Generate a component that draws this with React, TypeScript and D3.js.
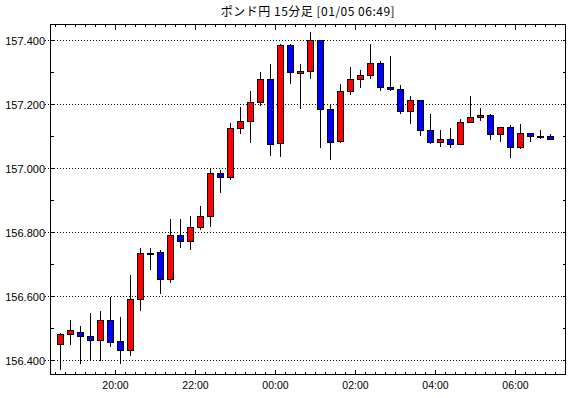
import React from "react";
import * as d3 from "d3";

const title = "ポンド円 15分足 [01/05 06:49]";
const startTime = "2025-01-04T18:30:00";
const opens = [156.449,156.480,156.487,156.474,156.461,156.524,156.458,156.430,156.590,156.735,156.736,156.652,156.790,156.771,156.815,156.849,156.983,156.972,157.125,157.147,157.206,157.278,157.078,157.384,157.297,157.303,157.400,157.184,157.084,157.241,157.278,157.291,157.328,157.253,157.247,157.178,157.213,157.119,157.081,157.091,157.075,157.144,157.159,157.166,157.106,157.128,157.066,157.109,157.100,157.100];
const highs = [156.486,156.528,156.509,156.549,156.556,156.600,156.538,156.669,156.752,156.752,156.746,156.843,156.843,156.853,156.884,157.002,156.996,157.144,157.195,157.244,157.303,157.328,157.391,157.391,157.328,157.428,157.400,157.200,157.266,157.319,157.309,157.391,157.338,157.353,157.263,157.228,157.216,157.172,157.122,157.128,157.156,157.228,157.191,157.172,157.128,157.138,157.141,157.113,157.122,157.109];
const lows = [156.373,156.449,156.390,156.400,156.400,156.445,156.390,156.415,156.555,156.683,156.610,156.645,156.752,156.746,156.808,156.820,156.926,156.966,157.109,157.081,157.197,157.041,157.038,157.266,157.188,157.281,157.066,157.028,157.081,157.231,157.253,157.281,157.244,157.244,157.172,157.141,157.102,157.078,157.069,157.066,157.075,157.144,157.150,157.091,157.084,157.034,157.062,157.084,157.094,157.091];
const closes = [156.480,156.493,156.474,156.461,156.524,156.457,156.430,156.590,156.733,156.735,156.652,156.790,156.771,156.815,156.849,156.983,156.971,157.125,157.147,157.206,157.278,157.075,157.384,157.300,157.303,157.400,157.184,157.081,157.241,157.278,157.291,157.328,157.253,157.247,157.178,157.213,157.119,157.081,157.091,157.075,157.144,157.159,157.166,157.106,157.128,157.066,157.109,157.100,157.100,157.091];
const yTickValues = [156.4, 156.6, 156.8, 157.0, 157.2, 157.4];
const xTickLabels = ["20:00", "22:00", "00:00", "02:00", "04:00", "06:00"];

const W = 570, H = 398;
const L = 50.5, R = 565.5, T = 24.5, B = 374.5;
const MIN = 60 * 1000;

export default function App() {
  const t0 = new Date(startTime).getTime();
  const times = opens.map((_, i) => new Date(t0 + i * 15 * MIN));
  const x = d3.scaleTime()
    .domain([new Date(t0 - 7.5 * MIN), new Date(t0 + 51 * 15 * MIN)])
    .range([L, R]);
  const y = d3.scaleLinear().domain([156.4, 157.4]).range([360.5, 40.5]);
  const py = (v: number) => Math.round(y(v) - 0.5) + 0.5;

  const minorX = d3.range(0, 52).map(i => new Date(t0 + i * 15 * MIN));
  const majorX = xTickLabels.map(lbl => {
    const [hh] = lbl.split(":").map(Number);
    const idx = times.findIndex(t => t.getHours() === hh && t.getMinutes() === 0);
    return { lbl, t: times[idx] };
  });
  const minorY = d3.range(156.4, 157.45, 0.1);
  const axisFont = "'Liberation Sans', Arial, sans-serif";

  return (
    <svg width={W} height={H} style={{ position: "absolute", left: 0, top: 0, background: "#fff" }}>
      <rect x={0} y={0} width={W} height={H} fill="#fff" />
      <text x={(L + R) / 2} y={16} textAnchor="middle" fontFamily="'Noto Sans CJK JP', sans-serif" fontSize={12} letterSpacing={0.5} fill="#000">{title}</text>
      {yTickValues.map(v => (
        <g key={v}>
          <line x1={45} x2={R} y1={py(v)} y2={py(v)} stroke="#000" strokeWidth={1} strokeDasharray="1,2" shapeRendering="crispEdges" />
          <text x={45} y={py(v) + 4} textAnchor="end" fontFamily={axisFont} fontSize={11} fill="#000">{v.toFixed(3)}</text>
        </g>
      ))}
      {minorY.map((v, i) => (
        <g key={"my" + i}>
          <line x1={L} x2={L + 3} y1={py(v)} y2={py(v)} stroke="#000" shapeRendering="crispEdges" />
          <line x1={R - 3} x2={R} y1={py(v)} y2={py(v)} stroke="#000" shapeRendering="crispEdges" />
        </g>
      ))}
      {minorX.map((t, i) => (
        <g key={"mx" + i}>
          <line x1={x(t)} x2={x(t)} y1={T} y2={T + 2} stroke="#000" shapeRendering="crispEdges" />
          <line x1={x(t)} x2={x(t)} y1={B - 3} y2={B} stroke="#000" shapeRendering="crispEdges" />
        </g>
      ))}
      {majorX.map(({ lbl, t }) => (
        <g key={lbl}>
          <line x1={x(t)} x2={x(t)} y1={T} y2={T + 5} stroke="#000" shapeRendering="crispEdges" />
          <line x1={x(t)} x2={x(t)} y1={B - 5} y2={B} stroke="#000" shapeRendering="crispEdges" />
          <text x={x(t)} y={388.5} textAnchor="middle" fontFamily={axisFont} fontSize={10.5} fill="#000">{lbl}</text>
        </g>
      ))}
      {times.map((t, i) => {
        const cx = x(new Date(t.getTime() + 7.5 * MIN));
        const o = opens[i], c = closes[i];
        const top = py(Math.max(o, c));
        const bot = py(Math.min(o, c));
        const fill = c > o ? "#ff0000" : c < o ? "#0000ff" : "#000";
        return (
          <g key={i} shapeRendering="crispEdges">
            <line x1={cx} x2={cx} y1={py(highs[i])} y2={py(lows[i])} stroke="#000" strokeWidth={1} />
            <rect x={cx - 3} y={top} width={6} height={Math.max(bot - top, 1)} fill={fill} stroke="#000" strokeWidth={1} />
          </g>
        );
      })}
      <rect x={L} y={T} width={R - L} height={B - T} fill="none" stroke="#000" strokeWidth={1} shapeRendering="crispEdges" />
    </svg>
  );
}
